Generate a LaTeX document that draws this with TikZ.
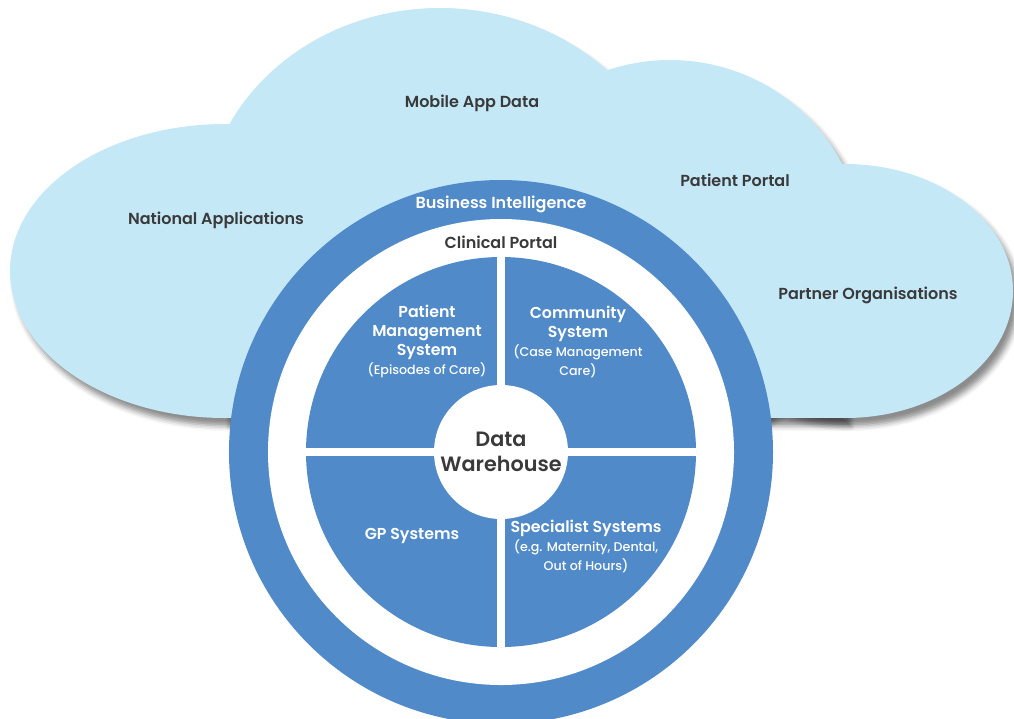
\documentclass[tikz,border=0pt]{standalone}
\usepackage{fontspec}
\setmainfont{Poppins}[BoldFont={Poppins SemiBold}]
\newfontfamily\mediumfont{Poppins Medium}
\usetikzlibrary{shadows.blur}
\definecolor{cloudblue}{HTML}{C5E8F7}
\definecolor{ringblue}{HTML}{508AC8}
\definecolor{textgrey}{HTML}{3A3A3A}
\tikzset{
  cloudpart/.style = {fill=cloudblue},
  cloudshade/.style = {blur shadow={shadow xshift=3pt, shadow yshift=-4.5pt, shadow opacity=45, shadow blur radius=3pt}},
  outerlabel/.style = {text=textgrey, font=\bfseries\fontsize{9.1}{11}\selectfont},
  ringlabel/.style = {text=white, font=\bfseries\fontsize{9.1}{11}\selectfont},
  partlabel/.style = {text=white, align=center, inner sep=0pt, font=\bfseries\fontsize{9}{10.8}\selectfont},
}
\newcommand{\subtxt}[1]{{\mediumfont\mdseries\fontsize{7.2}{8.6}\selectfont #1}}

\begin{document}
\begin{tikzpicture}[x=0.02cm, y=-0.02cm]
\useasboundingbox (0,0) rectangle (1014,718);
\clip (0,0) rectangle (1014,718);

% cloud, shadow first
\path[cloudshade] (225,271) ellipse (215 and 147);
\path[cloudshade] (440,220) ellipse (236 and 212);
\path[cloudshade] (670,250) ellipse (193 and 190);
\path[cloudshade] (845,291) ellipse (168 and 127);
\path[cloudshade] (225,250) rectangle (845,418);

\fill[cloudpart] (225,271) ellipse (215 and 147);
\fill[cloudpart] (440,220) ellipse (236 and 212);
\fill[cloudpart] (670,250) ellipse (193 and 190);
\fill[cloudpart] (845,291) ellipse (168 and 127);
\fill[cloudpart] (225,250) rectangle (845,418);

\node[outerlabel] (mobile) at (472,103) {Mobile App Data};
\node[outerlabel] (portal) at (735,180) {Patient Portal};
\node[outerlabel] (national) at (216,220) {National Applications};
\node[outerlabel] (partner) at (868,295) {Partner Organisations};

% rings
\coordinate (c) at (501,452);
\fill[ringblue] (c) circle (272);
\fill[white] (c) circle (233);
\fill[ringblue] (c) circle (195);
\draw[white, line width=0.16cm] (306,452) -- (696,452);
\draw[white, line width=0.16cm] (501,257) -- (501,647);
\fill[white] (c) circle (67);

\node[ringlabel] (bi) at (501,204) {Business Intelligence};
\node[outerlabel] (clinical) at (501,242) {Clinical Portal};

\node[partlabel] (pms) at (427,341) {Patient\\Management\\System\\\subtxt{(Episodes of Care)}};
\node[partlabel] (community) at (578,342) {Community\\System\\\subtxt{(Case Management}\\\subtxt{Care)}};
\node[partlabel] (gp) at (412,536) {GP Systems};
\node[partlabel] (specialist) at (586,546) {Specialist Systems\\\subtxt{(e.g. Maternity, Dental,}\\\subtxt{Out of Hours)}};

\node[text=textgrey, align=center, font=\bfseries\fontsize{11.8}{14}\selectfont] (dw) at (c) {Data\\Warehouse};

\end{tikzpicture}
\end{document}
